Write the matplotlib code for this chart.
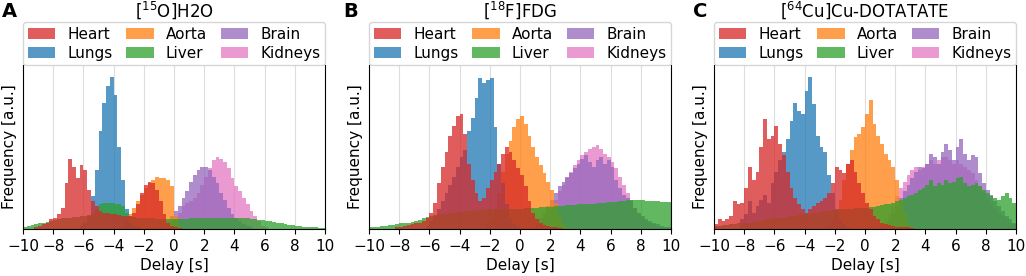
import numpy as np
import matplotlib
matplotlib.use("Agg")
import matplotlib.pyplot as plt

plt.rcParams["font.size"] = 11

# histogram bins (delay in s), 0.25 s wide
bin_w = 0.25
edges = np.arange(-10, 10 + bin_w / 2, bin_w)
centers = edges[:-1] + bin_w / 2

# ---- [15O]H2O  (start = left edge of first bin, values in a.u.) ----
heart_a_start = -9.25
heart_a = [1, 2, 3, 4, 6, 7, 9, 13, 28, 43, 38, 31, 39, 36, 24, 17,
           14, 11, 10, 10, 9, 9, 8.5, 8, 8, 8, 10, 15, 22, 27, 29, 28,
           24, 17, 9, 4, 2, 1, 0.5]
lungs_a_start = -6.25
lungs_a = [2, 4, 8, 20, 36, 60, 77, 87, 93, 82, 50, 30, 12, 4, 2, 1]
aorta_a_start = -3.5
aorta_a = [2, 5, 9, 13, 17, 21, 25, 28, 30, 32, 31, 31, 30, 26, 8, 2]
liver_a_start = -10.0
liver_a = [1.5, 2, 2.5, 3, 3.5, 4, 4.5, 5,
           5.5, 6, 6.5, 7, 7, 7.5, 7.5, 8,
           8, 8.5, 9, 12, 15, 16, 16, 16,
           15, 15, 14, 10, 8, 7.5, 7, 7,
           7, 6.5, 6.5, 6, 6, 6, 6, 6,
           6, 6, 6, 6, 6.5, 6.5, 6.5, 6.5,
           6.5, 7, 7, 7, 7, 7, 7, 7,
           7, 7, 6.5, 6.5, 6, 6, 5.5, 5.5,
           5, 5, 4.5, 4, 3.5, 3, 2.5, 2.5,
           2, 2, 1.5, 1.5, 1, 1, 0.5, 0.5]
brain_a_start = -1.0
brain_a = [1, 3, 5, 8, 11, 14, 19, 23, 29, 33, 36, 38, 38, 36, 32, 28,
           22, 18, 13, 9, 7, 5, 3, 2, 1]
kidneys_a_start = -0.5
kidneys_a = [1, 3, 6, 10, 14, 16, 17, 19, 22, 27, 32, 37, 42, 44, 43, 41,
             37, 31, 26, 23, 19, 15, 11, 8, 5, 2, 1]

# ---- [18F]FDG ----
heart_b_start = -8.25
heart_b = [1, 1.5, 2, 2.5, 3, 3.5, 4, 5, 7, 10, 16, 28, 38, 47, 57, 63,
           69, 70, 58, 40, 30, 22, 17, 19, 25, 30, 35, 40, 46, 50, 47, 42,
           37, 33, 26, 17, 10, 6, 3.5, 2.5, 2, 1.5, 1, 0.5]
lungs_b_start = -6.25
lungs_b = [2, 5, 8, 12, 17, 22, 27, 32, 38, 44, 48, 60, 68, 80, 92, 89,
           91, 92, 62, 40, 28, 15, 7, 3, 1]
aorta_b_start = -2.25
aorta_b = [3, 6, 12, 22, 35, 46, 54, 62, 67, 69, 64, 57, 50, 44, 39, 34,
           29, 24, 16, 8, 3, 1]
liver_b_start = -10.0
liver_b = [1, 1.5, 1.5, 2, 2, 2.5, 2.5, 3,
           3.5, 3.5, 4, 4.5, 5, 5.5, 6.5, 7.5,
           8, 8.5, 9, 9, 9.5, 10, 10, 10.5,
           10.5, 11, 11, 11, 11.5, 11.5, 11.5, 12,
           12, 12, 12, 12, 12, 12.5, 12.5, 12.5,
           12.5, 13, 13, 13, 13, 13.5, 13.5, 13.5,
           13.5, 14, 14, 14, 14.5, 14.5, 14.5, 15,
           15, 15, 15.5, 15.5, 16, 16, 16, 16.5,
           16.5, 16.5, 17, 17, 17.5, 17.5, 17.5, 17.5,
           17.5, 17, 17, 17, 17, 16.5, 16.5, 16.5]
brain_b_start = 0.75
brain_b = [2, 4, 7, 10, 14, 18, 22, 26, 29, 32, 34, 37, 40, 43, 45, 41,
           38, 42, 44, 40, 42, 38, 30, 25, 21, 19, 17, 13, 10, 8, 6, 5,
           4, 3, 2, 1.5, 1]
kidneys_b_start = 1.0
kidneys_b = [2, 4, 7, 10, 14, 18, 23, 27, 31, 35, 39, 42, 45, 47, 49, 50,
             51, 49, 46, 44, 41, 37, 32, 27, 22, 18, 13, 10, 7, 5, 4, 3,
             2, 1.5, 1, 0.5]

# ---- [64Cu]Cu-DOTATATE ----
heart_c_start = -10.0
heart_c = [3, 6, 5, 6, 8, 17, 15, 16, 25, 38, 30, 35, 50, 67, 55, 57,
           63, 52, 45, 35, 25, 19, 15, 12, 10, 12, 14, 16, 17, 19, 22, 28,
           38, 36, 34, 40, 42, 35, 28, 22, 16, 12, 8, 6, 4, 3, 2.5, 2,
           1.5, 1.5, 1, 1, 0.5]
lungs_c_start = -8.25
lungs_c = [6, 9, 17, 10, 14, 18, 21, 16, 28, 35, 42, 47, 55, 66, 77, 72,
           70, 84, 93, 76, 57, 50, 47, 33, 22, 12, 6, 3, 1]
aorta_c_start = -2.5
aorta_c = [2, 5, 10, 18, 30, 40, 48, 56, 58, 62, 70, 79, 64, 57, 52, 46,
           42, 38, 30, 18, 10, 4, 1]
liver_c_start = -10.0
liver_c = [2, 2, 2.5, 2.5, 3, 3, 3.5, 3.5,
           4, 4, 4.5, 5, 5, 5.5, 6, 6.5,
           6.5, 7, 7, 7.5, 8, 8, 8.5, 9,
           9, 9.5, 10, 10, 10.5, 11, 11, 11.5,
           11.5, 12, 12, 12.5, 12.5, 13, 13, 13,
           13, 13.5, 13.5, 14, 14.5, 15, 15.5, 16,
           17, 17.5, 19, 20, 20.5, 22, 24, 25,
           27, 30, 26, 28, 27, 30, 28, 29,
           31, 32, 28, 26, 27, 28, 26, 24,
           22, 20, 19, 18, 20, 22, 19, 16]
brain_c_start = 1.25
brain_c = [2, 5, 9, 14, 19, 23, 27, 31, 35, 38, 37, 40, 46, 44, 40, 47,
           52, 48, 42, 50, 55, 46, 42, 45, 44, 34, 28, 24, 21, 17, 14, 11,
           8, 6, 4]
kidneys_c_start = 1.0
kidneys_c = [2, 5, 9, 14, 20, 25, 29, 33, 36, 38, 36, 38, 40, 42, 40, 42,
             44, 44, 42, 40, 42, 40, 38, 36, 34, 30, 26, 22, 19, 16, 13, 10,
             8, 6, 4, 3]

organs = ["Heart", "Lungs", "Aorta", "Liver", "Brain", "Kidneys"]
colors = {"Heart": "tab:red", "Lungs": "tab:blue", "Aorta": "tab:orange",
          "Liver": "tab:green", "Brain": "tab:purple", "Kidneys": "tab:pink"}
draw_order = ["Kidneys", "Brain", "Aorta", "Lungs", "Liver", "Heart"]

panels = [
    ("A", "[$^{15}$O]H2O", {
        "Heart": (heart_a_start, heart_a), "Lungs": (lungs_a_start, lungs_a),
        "Aorta": (aorta_a_start, aorta_a), "Liver": (liver_a_start, liver_a),
        "Brain": (brain_a_start, brain_a), "Kidneys": (kidneys_a_start, kidneys_a)}),
    ("B", "[$^{18}$F]FDG", {
        "Heart": (heart_b_start, heart_b), "Lungs": (lungs_b_start, lungs_b),
        "Aorta": (aorta_b_start, aorta_b), "Liver": (liver_b_start, liver_b),
        "Brain": (brain_b_start, brain_b), "Kidneys": (kidneys_b_start, kidneys_b)}),
    ("C", "[$^{64}$Cu]Cu-DOTATATE", {
        "Heart": (heart_c_start, heart_c), "Lungs": (lungs_c_start, lungs_c),
        "Aorta": (aorta_c_start, aorta_c), "Liver": (liver_c_start, liver_c),
        "Brain": (brain_c_start, brain_c), "Kidneys": (kidneys_c_start, kidneys_c)}),
]


def to_hist(start, vals):
    h = np.zeros(len(centers))
    i0 = int(round((start + 10) / bin_w))
    h[i0:i0 + len(vals)] = vals
    return h


fig = plt.figure(figsize=(10.26, 2.76), dpi=100)
lefts = [23 / 1026, 369 / 1026, 714 / 1026]
letter_x = [2 / 1026, 343 / 1026, 693 / 1026]

for k, (letter, title, data) in enumerate(panels):
    ax = fig.add_axes([lefts[k], 0.170, 0.2944, 0.594])
    handles = {}
    for org in draw_order:
        start, vals = data[org]
        _, _, patches = ax.hist(centers, bins=edges, weights=to_hist(start, vals),
                                histtype="stepfilled", color=colors[org],
                                alpha=0.75, linewidth=0, label=org)
        handles[org] = patches[0]

    ax.set_xlim(-10, 10)
    ax.set_ylim(0, 100)
    ax.set_xticks(np.arange(-10, 11, 2))
    ax.set_yticks([])
    ax.set_axisbelow(True)
    ax.grid(axis="x", color="#dddddd", linewidth=0.8)
    ax.spines["top"].set_visible(False)
    ax.set_xlabel("Delay [s]", labelpad=3)
    ax.set_ylabel("Frequency [a.u.]", labelpad=4)

    ax.legend([handles[o] for o in organs], organs, ncol=3, mode="expand",
              loc="lower left", bbox_to_anchor=(0, 1.0, 1, 0.1),
              borderaxespad=0, fontsize=11, labelspacing=0.25,
              borderpad=0.3, handlelength=1.8)
    ax.text(0.5, 1.295, title, transform=ax.transAxes, ha="center",
            va="baseline", fontsize=12)
    fig.text(letter_x[k], 0.938, letter, fontsize=14, fontweight="bold",
             va="baseline")

fig.savefig("out.png", dpi=100)
